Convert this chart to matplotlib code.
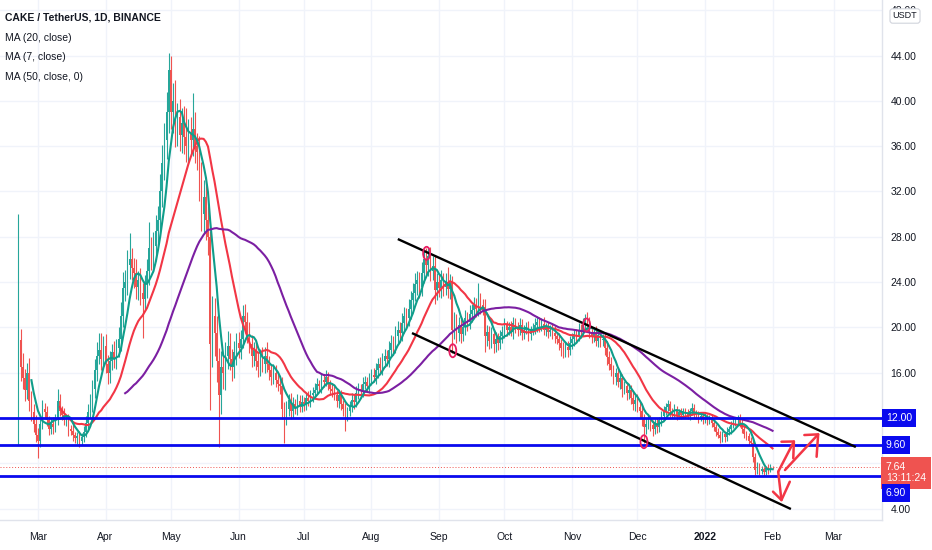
import numpy as np
import pandas as pd
import matplotlib
matplotlib.use('Agg')
import matplotlib.pyplot as plt
from matplotlib.patches import Ellipse

plt.rcParams['font.family'] = ['Liberation Sans', 'DejaVu Sans']

# ---- data (CAKE/USDT daily, from 2021-02-20) ----
start_date = '2021-02-20'
first_open = 9.6

closes = [
    18.9, 16.5, 15.5, 14.5, 16.0, 13.5, 12.5, 11.5, 10.5, 10.0,
    11.5, 12.8, 12.5, 11.8, 11.0, 11.5, 11.2, 11.9, 13.5, 12.6,
    12.3, 11.8, 11.9, 11.0, 10.9, 10.5, 10.2, 10.4, 10.0, 10.3,
    10.8, 11.6, 12.5, 13.2, 14.6, 16.2, 17.5, 18.0, 17.2, 18.4,
    16.8, 16.0, 17.0, 17.8, 17.3, 18.2, 19.0, 21.0, 23.5, 24.0,
    25.5, 26.0, 25.2, 24.8, 23.6, 24.2, 23.0, 22.5, 23.8, 25.0,
    27.0, 26.3, 27.2, 28.5, 29.5, 32.0, 34.5, 36.5, 39.0, 42.7,
    39.0, 40.0, 37.5, 38.6, 37.0, 38.0, 36.8, 36.0, 37.2, 36.5,
    37.5, 36.0, 35.5, 33.0, 30.0, 31.5, 29.5, 28.0, 18.5, 21.0,
    19.5, 17.0, 14.0, 16.5, 16.0, 17.5, 18.4, 17.2, 16.5, 17.8,
    18.6, 18.2, 19.0, 21.0, 20.5, 19.5, 18.5, 17.5, 18.0, 17.0,
    16.5, 17.4, 16.8, 17.5, 16.8, 16.2, 15.6, 16.0, 15.4, 15.0,
    14.8, 12.8, 12.2, 12.8, 13.6, 12.6, 13.2, 12.9, 13.5, 13.0,
    13.4, 13.2, 13.8, 13.5, 14.0, 14.2, 14.5, 15.0, 14.8, 15.4,
    15.2, 15.6, 15.0, 14.6, 14.4, 14.0, 13.5, 14.0, 13.2, 12.8,
    12.2, 12.6, 13.0, 13.6, 13.4, 14.2, 14.6, 14.4, 15.0, 15.2,
    14.8, 15.4, 15.8, 15.6, 16.2, 16.8, 16.4, 17.0, 17.5, 17.2,
    18.0, 18.6, 18.4, 19.2, 19.8, 19.5, 20.4, 21.0, 20.8, 21.6,
    22.4, 23.0, 23.8, 24.2, 23.6, 24.8, 26.0, 25.5, 26.3, 25.0,
    25.4, 23.3, 24.0, 23.5, 24.2, 23.6, 24.0, 23.4, 24.0, 19.8,
    20.6, 19.5, 20.2, 19.4, 20.0, 20.8, 20.5, 21.2, 21.5, 22.0,
    21.6, 22.4, 22.0, 21.8, 19.2, 19.6, 18.8, 19.4, 18.5, 19.0,
    18.6, 19.2, 19.6, 20.2, 19.8, 20.0, 19.6, 20.4, 20.0, 19.8,
    20.2, 19.5, 19.8, 20.0, 19.4, 19.7, 19.9, 20.2, 20.5, 20.1,
    20.3, 19.8, 20.0, 19.6, 19.8, 19.5, 19.2, 19.0, 18.6, 18.2,
    17.9, 18.3, 18.0, 18.6, 19.0, 19.4, 19.2, 19.8, 19.6, 20.2,
    20.8, 20.4, 19.6, 19.2, 19.5, 18.8, 19.3, 18.9, 19.0, 18.2,
    17.4, 16.8, 16.2, 15.6, 16.0, 15.2, 15.5, 14.6, 14.8, 14.2,
    14.5, 13.8, 13.2, 13.6, 13.0, 12.6, 12.0, 11.2, 11.5, 12.0,
    11.4, 11.0, 11.6, 11.2, 11.8, 12.2, 12.6, 13.0, 13.2, 12.6,
    12.4, 12.8, 12.2, 12.5, 12.3, 12.6, 12.4, 12.2, 12.6, 12.9,
    12.4, 12.2, 12.0, 12.2, 11.9, 12.1, 11.8, 12.0, 11.6, 11.2,
    10.8, 10.5, 10.2, 10.6, 10.3, 10.8, 11.0, 11.4, 11.6, 11.8,
    12.1, 11.6, 11.0, 10.6, 10.4, 10.0, 9.8, 8.6, 7.4, 7.8,
    7.3, 7.5, 7.2, 7.6, 7.4, 7.7, 7.64,
]

# wick length above max(open, close)
upper_wick = [
    11.1, 1.0, 1.2, 0.8, 0.9, 1.3, 0.9, 0.7, 0.8, 0.6,
    0.7, 0.8, 0.5, 0.6, 0.4, 0.5, 0.6, 0.5, 1.1, 0.6,
    0.5, 0.6, 0.4, 0.5, 0.4, 0.6, 0.3, 0.4, 0.5, 0.4,
    0.5, 0.6, 0.7, 0.9, 0.8, 1.0, 1.2, 1.5, 1.5, 0.8,
    1.0, 0.8, 0.9, 0.7, 1.0, 0.8, 1.0, 1.2, 1.4, 1.1,
    1.3, 2.3, 1.0, 0.9, 1.2, 0.8, 1.0, 0.9, 0.8, 1.0,
    2.3, 1.0, 1.2, 1.4, 1.2, 1.5, 1.6, 1.5, 1.8, 1.5,
    1.3, 1.6, 1.8, 1.2, 1.6, 1.4, 1.5, 2.6, 1.2, 1.4,
    3.2, 1.5, 1.2, 1.4, 1.6, 1.5, 1.8, 1.2, 0.5, 1.8,
    1.6, 1.5, 1.2, 1.4, 1.0, 1.2, 1.3, 1.1, 0.9, 1.0,
    0.9, 1.0, 0.8, 1.0, 1.1, 0.9, 1.0, 0.8, 0.7, 0.9,
    0.8, 0.7, 0.9, 0.8, 1.2, 0.7, 0.6, 0.8, 0.7, 0.6,
    0.7, 0.8, 0.6, 0.7, 0.5, 0.6, 0.7, 0.5, 0.6, 0.5,
    0.6, 0.5, 0.4, 0.6, 0.5, 0.5, 0.6, 0.5, 0.4, 0.6,
    0.5, 0.6, 0.5, 0.4, 0.5, 0.4, 0.5, 0.4, 0.5, 0.4,
    0.5, 0.4, 0.5, 0.6, 0.5, 0.6, 0.5, 0.4, 0.6, 0.5,
    0.4, 0.6, 0.5, 0.6, 0.7, 0.5, 0.6, 0.7, 0.6, 0.5,
    0.8, 0.7, 0.6, 0.9, 0.8, 0.7, 0.9, 0.8, 0.7, 0.9,
    0.8, 0.9, 1.0, 0.8, 0.7, 1.0, 0.9, 1.0, 0.7, 0.8,
    0.9, 1.0, 0.8, 0.7, 0.9, 0.6, 0.8, 1.3, 0.7, 0.5,
    0.8, 0.6, 0.7, 0.5, 0.6, 0.7, 0.6, 0.8, 0.6, 0.7,
    0.6, 1.5, 0.6, 0.5, 0.7, 0.6, 0.5, 0.6, 0.5, 0.6,
    0.5, 0.6, 0.5, 0.6, 0.4, 0.5, 0.6, 0.5, 0.4, 0.5,
    0.6, 0.5, 0.4, 0.5, 0.6, 0.4, 0.5, 0.6, 0.5, 0.4,
    0.5, 0.6, 0.4, 0.5, 0.4, 0.5, 0.6, 0.4, 0.5, 0.4,
    0.5, 0.4, 0.5, 0.6, 0.5, 0.4, 0.5, 0.6, 0.5, 0.6,
    0.4, 0.6, 0.5, 0.4, 0.5, 0.6, 0.4, 0.5, 0.4, 0.5,
    0.6, 0.5, 0.6, 0.5, 0.4, 0.5, 0.6, 0.4, 0.5, 0.4,
    0.5, 0.4, 0.5, 0.4, 0.5, 0.4, 0.5, 0.4, 0.5, 0.4,
    0.3, 0.4, 0.3, 0.4, 0.3, 0.4, 0.5, 0.3, 0.4, 0.3,
    0.3, 0.4, 0.3, 0.3, 0.4, 0.3, 0.3, 0.4, 0.3, 0.4,
    0.3, 0.3, 0.4, 0.3, 0.3, 0.4, 0.3, 0.3, 0.4, 0.3,
    0.3, 0.3, 0.4, 0.3, 0.3, 0.4, 0.3, 0.3, 0.4, 0.3,
    0.2, 0.3, 0.3, 0.4, 0.3, 0.3, 0.3, 0.4, 0.3, 0.3,
    0.2, 0.3, 0.2, 0.2, 0.3, 0.2, 0.1,
]

# wick length below min(open, close)
lower_wick = [
    0.0, 1.2, 0.9, 1.0, 0.8, 0.9, 0.8, 0.7, 0.6, 1.5,
    0.6, 0.5, 0.6, 0.5, 0.5, 0.4, 0.6, 0.4, 0.5, 0.4,
    0.5, 0.4, 0.5, 0.6, 0.4, 0.5, 0.4, 0.5, 0.6, 0.4,
    0.4, 0.5, 0.6, 0.5, 0.7, 0.8, 0.9, 0.7, 1.0, 0.9,
    0.8, 1.0, 0.9, 0.8, 0.9, 1.0, 0.8, 1.1, 1.0, 1.2,
    1.1, 1.2, 1.0, 1.3, 1.1, 1.2, 1.0, 3.4, 1.0, 1.2,
    1.3, 1.2, 1.4, 1.3, 1.2, 1.5, 1.4, 1.5, 1.6, 1.8,
    1.5, 1.8, 1.6, 1.5, 1.4, 1.6, 1.5, 1.4, 1.6, 1.3,
    1.4, 1.5, 1.6, 1.8, 1.5, 1.7, 1.8, 1.6, 5.8, 2.0,
    2.0, 1.8, 4.6, 1.6, 1.4, 1.5, 1.2, 1.0, 1.2, 1.0,
    1.1, 0.9, 1.0, 0.8, 1.0, 0.9, 0.8, 1.0, 0.9, 0.8,
    0.9, 0.8, 0.7, 0.8, 0.7, 0.8, 0.7, 0.6, 0.7, 0.6,
    0.7, 0.9, 2.4, 0.8, 0.6, 0.7, 0.6, 0.5, 0.6, 0.5,
    0.5, 0.6, 0.5, 0.4, 0.5, 0.6, 0.5, 0.4, 0.5, 0.6,
    0.5, 0.4, 0.5, 0.6, 0.5, 0.4, 0.5, 0.6, 0.5, 0.6,
    1.3, 0.5, 0.4, 0.5, 0.6, 0.4, 0.5, 0.6, 0.5, 0.4,
    0.5, 0.6, 0.5, 0.4, 0.6, 0.7, 0.5, 0.6, 0.5, 0.6,
    0.7, 0.6, 0.8, 0.7, 0.6, 0.8, 0.7, 0.9, 0.8, 0.7,
    0.9, 0.8, 0.7, 0.9, 1.0, 0.8, 0.9, 0.8, 1.0, 0.9,
    0.8, 1.2, 0.9, 0.8, 0.9, 0.8, 0.7, 0.8, 0.9, 2.1,
    0.8, 0.9, 0.7, 0.8, 0.6, 0.7, 0.8, 0.6, 0.7, 0.6,
    0.7, 0.6, 0.8, 0.7, 1.4, 0.8, 0.7, 0.6, 0.8, 0.7,
    0.6, 0.5, 0.6, 0.5, 0.6, 0.5, 0.4, 0.6, 0.5, 0.6,
    0.5, 0.6, 0.5, 0.4, 0.6, 0.5, 0.4, 0.5, 0.6, 0.5,
    0.4, 0.5, 0.6, 0.5, 0.4, 0.5, 0.6, 0.5, 0.6, 0.7,
    0.6, 0.5, 0.6, 0.4, 0.5, 0.6, 0.5, 0.4, 0.5, 0.4,
    0.5, 0.6, 0.5, 0.6, 0.5, 0.4, 0.5, 0.6, 0.5, 0.6,
    0.7, 0.6, 0.5, 0.6, 0.7, 0.5, 0.6, 0.7, 0.5, 0.6,
    0.5, 0.6, 0.5, 0.6, 0.5, 0.6, 0.7, 1.4, 0.6, 0.5,
    0.5, 0.6, 0.4, 0.5, 0.4, 0.5, 0.4, 0.3, 0.4, 0.5,
    0.4, 0.3, 0.4, 0.3, 0.4, 0.3, 0.4, 0.3, 0.4, 0.3,
    0.4, 0.3, 0.4, 0.3, 0.4, 0.3, 0.4, 0.3, 0.4, 0.3,
    0.4, 0.3, 0.4, 0.3, 0.4, 0.3, 0.3, 0.4, 0.3, 0.3,
    0.3, 0.4, 0.3, 0.4, 0.3, 0.4, 0.3, 0.5, 0.4, 0.3,
    0.3, 0.2, 0.3, 0.2, 0.3, 0.2, 0.1,
]

ma_periods = [20, 7, 50]
ma_labels = ['MA (20, close)', 'MA (7, close)', 'MA (50, close, 0)']
ma_colors = ['#f23645', '#0f9d8a', '#7b1fa2']

levels = [12.00, 9.60, 6.90]
last_price = 7.64
countdown = '13:11:24'

# drawn channel (date, price)
channel_upper = [('2021-08-13 02:00', 27.8), ('2022-03-11 05:00', 9.44)]
channel_lower = [('2021-08-19 14:00', 19.5), ('2022-02-09 10:00', 3.97)]

# touch markers (date, price)
touches = [('2021-08-26 07:00', 26.54), ('2021-09-07 07:00', 17.94),
           ('2021-11-07 17:00', 20.21), ('2021-12-04 00:00', 9.91)]

# hand drawn arrows: shaft start, tip, head end 1, head end 2
arrows = [
    [('2022-02-03 14:00', 7.26), ('2022-02-10 19:00', 9.93),
     ('2022-02-05 02:00', 9.91), ('2022-02-10 12:00', 8.44)],
    [('2022-02-06 17:00', 7.41), ('2022-02-21 22:00', 10.56),
     ('2022-02-15 14:00', 10.50), ('2022-02-21 05:00', 8.58)],
    [('2022-02-03 14:00', 7.26), ('2022-02-05 02:00', 4.76),
     ('2022-02-01 05:00', 5.50), ('2022-02-08 22:00', 6.38)],
]

# ---- derived ----
dates = pd.date_range(start_date, periods=len(closes), freq='D')
c = np.array(closes)
o = np.array([first_open] + closes[:-1])
hi = np.maximum(o, c) + np.array(upper_wick)
lo = np.minimum(o, c) - np.array(lower_wick)
up = c >= o
cols = np.where(up, '#26a69a', '#ef5350')

fig = plt.figure(figsize=(9.32, 5.5), dpi=100)
ax = fig.add_axes([0, 30 / 550, 882 / 932, 520 / 550])
ax.set_facecolor('white')

ax.vlines(dates, lo, hi, colors=cols, lw=0.8, zorder=2)
body = np.maximum(np.abs(c - o), 0.06)
ax.bar(dates, body, bottom=np.minimum(o, c), width=0.7, color=cols,
       linewidth=0, zorder=2)

s = pd.Series(c, index=dates)
for n, col in zip(ma_periods, ma_colors):
    ax.plot(dates, s.rolling(n).mean(), color=col, lw=1.5, zorder=3)

for lv in levels:
    ax.axhline(lv, color='#0a0aee', lw=2.0, zorder=4)
ax.axhline(last_price, color='#ef5350', lw=0.7, ls=(0, (1, 2)), zorder=3)

for line in (channel_upper, channel_lower):
    xs = [pd.Timestamp(p[0]) for p in line]
    ys = [p[1] for p in line]
    ax.plot(xs, ys, color='black', lw=1.7, zorder=5, solid_capstyle='butt')

for t, p in touches:
    ax.add_patch(Ellipse((pd.Timestamp(t), p), width=3.2, height=1.15,
                         fill=False, ec='#e91e63', lw=1.3, zorder=6))

for a in arrows:
    pts = [(pd.Timestamp(t), p) for t, p in a]
    st, tip, h1, h2 = pts
    ax.plot([st[0], tip[0]], [st[1], tip[1]], color='#f23645', lw=1.8, zorder=6,
            solid_capstyle='round')
    ax.plot([h1[0], tip[0], h2[0]], [h1[1], tip[1], h2[1]], color='#f23645',
            lw=1.8, zorder=6, solid_capstyle='round', solid_joinstyle='round')

ax.set_xlim(pd.Timestamp('2021-02-11 14:00'), pd.Timestamp('2022-03-23 05:00'))
ax.set_ylim(3.0, 48.9)

months = pd.date_range('2021-03-01', '2022-03-01', freq='MS')
ax.set_xticks(months)
ax.set_xticklabels([str(m.year) if m.month == 1 else m.strftime('%b') for m in months])
yt = np.arange(4, 49, 4)
# labels at 8 and 12 sit under the price boxes
ax.set_yticks(yt)
ax.set_yticklabels(['' if v in (8, 12) else f'{v:.2f}' for v in yt])
ax.yaxis.tick_right()
ax.tick_params(axis='both', length=0, labelsize=7.5, colors='#131722')
ax.tick_params(axis='y', pad=6)
ax.tick_params(axis='x', pad=9)
for lab in ax.get_xticklabels():
    if lab.get_text() == '2022':
        lab.set_fontweight('bold')

ax.grid(True, color='#f0f3fa', lw=1)
ax.set_axisbelow(True)
for sp in ['top', 'left']:
    ax.spines[sp].set_visible(False)
for sp in ['right', 'bottom']:
    ax.spines[sp].set_color('#e0e3eb')
    ax.spines[sp].set_linewidth(1)

# legend block top-left
ax.text(5 / 882, 1 - 18 / 520, 'CAKE / TetherUS, 1D, BINANCE', transform=ax.transAxes,
        fontsize=7.5, fontweight='bold', color='#131722', va='center')
for i, lab in enumerate(ma_labels):
    ax.text(5 / 882, 1 - (38 + 19.5 * i) / 520, lab, transform=ax.transAxes,
            fontsize=7.5, color='#131722', va='center')

# price labels on the scale
for lv, dy in zip(levels, [0, 0, -12.2]):
    ax.annotate(f'{lv:.2f}', xy=(1.0, lv), xycoords=('axes fraction', 'data'),
                xytext=(2.7, dy), textcoords='offset points', ha='left', va='center',
                fontsize=7.5, color='white', annotation_clip=False, zorder=10,
                bbox=dict(boxstyle='square,pad=0.38', fc='#0a0aee', ec='none'))
ax.annotate(f'{last_price:.2f}\n{countdown}', xy=(1.0, last_price),
            xycoords=('axes fraction', 'data'), xytext=(2.7, -3.8),
            textcoords='offset points', ha='left', va='center', fontsize=7.5,
            color='white', linespacing=1.15, annotation_clip=False, zorder=9,
            bbox=dict(boxstyle='square,pad=0.5', fc='#ef5350', ec='none'))

fig.text(905 / 932, 1 - 16 / 550, 'USDT', ha='center', va='center', fontsize=6.5,
         color='#131722',
         bbox=dict(boxstyle='round,pad=0.3', fc='white', ec='#d1d4dc', lw=0.8))

fig.savefig('out.png', dpi=100, facecolor='white')
